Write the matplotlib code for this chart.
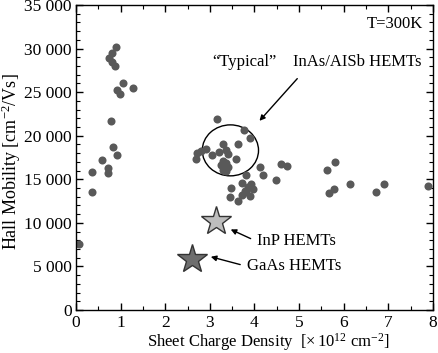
import numpy as np
import matplotlib
matplotlib.use('Agg')
from matplotlib import pyplot as plt
from matplotlib.patches import Ellipse
from matplotlib.ticker import MultipleLocator, FuncFormatter

plt.rcParams['font.family'] = ['Liberation Serif', 'DejaVu Serif']
plt.rcParams['mathtext.fontset'] = 'custom'
plt.rcParams['mathtext.rm'] = 'Liberation Serif'
plt.rcParams['mathtext.it'] = 'Liberation Serif:italic'

# InAs/AlSb HEMT samples: sheet density [1e12 cm^-2], Hall mobility [cm^2/Vs]
density = [0.895, 0.80, 0.745, 0.80, 0.87, 1.045, 1.28, 0.91, 0.98, 0.78,
           0.82, 0.91, 0.59, 0.72, 0.36, 0.72, 0.365, 0.067,
           3.15, 3.77, 3.91, 3.63, 3.30, 3.37, 3.21, 2.91, 2.81, 2.72,
           3.04, 2.69, 3.41, 3.58, 3.30, 3.37, 3.26, 3.41, 3.30, 3.36,
           3.80, 4.13, 4.19, 4.49, 4.59, 4.73, 3.71, 3.48, 3.93, 3.85,
           3.78, 3.97, 3.71, 3.89, 3.45, 3.63, 3.82,
           5.81, 5.63, 6.13, 5.78, 5.66, 6.91, 6.73, 7.88]
mobility = [30130, 29530, 28880, 28500, 28010, 26100, 25460, 25190, 24770, 21740,
            18700, 17780, 17210, 16340, 15850, 15700, 13570, 7560,
            21970, 20600, 19690, 19000, 19000, 18320, 18160, 18430, 18240, 18050,
            17780, 17290, 17860, 17290, 17100, 16910, 16640, 16420, 16040, 15960,
            15500, 16420, 15500, 14930, 16790, 16490, 14630, 13990, 14440, 14060,
            13680, 13870, 13220, 13110, 13000, 12540, 13490,
            17020, 16040, 14440, 13940, 13450, 14440, 13530, 14250]

inp = (3.13, 10260)
gaas = (2.59, 5890)

fig = plt.figure(figsize=(4.38, 3.53), dpi=100)
ax = fig.add_axes([0.1735, 0.1218, 0.8151, 0.8640])

ax.plot(density, mobility, 'o', color='#595959', markersize=5.8, markeredgewidth=0)
ax.plot(*inp, marker='*', color='#bdbdbd', markeredgecolor='#333333',
        markersize=22, markeredgewidth=1.0)
ax.plot(*gaas, marker='*', color='#6e6e6e', markeredgecolor='#333333',
        markersize=22, markeredgewidth=1.0)

ax.add_patch(Ellipse((3.46, 18320), 1.26, 5850, fill=False, edgecolor='black', lw=1.0))

arrow = dict(arrowstyle='-|>', color='black', lw=1.0, mutation_scale=8)
ax.annotate('', xy=(4.07, 21470), xytext=(5.0, 26790), arrowprops=arrow)
ax.annotate('', xy=(3.41, 9380), xytext=(3.97, 8060), arrowprops=arrow)
ax.annotate('', xy=(2.96, 6190), xytext=(3.74, 5130), arrowprops=arrow)

ax.text(3.05, 28450, '\u201cTypical\u201d', fontsize=12, va='center', ha='left')
ax.text(4.87, 28450, 'InAs/AISb HEMTs', fontsize=12, va='center', ha='left')
ax.text(4.05, 7950, 'InP HEMTs', fontsize=12, va='center', ha='left')
ax.text(3.84, 5000, 'GaAs HEMTs', fontsize=12, va='center', ha='left')
ax.text(7.78, 32800, 'T=300K', fontsize=12, va='center', ha='right')

ax.set_xlim(0, 8)
ax.set_ylim(0, 35000)
ax.xaxis.set_major_locator(MultipleLocator(1))
ax.xaxis.set_minor_locator(MultipleLocator(0.5))
ax.yaxis.set_major_locator(MultipleLocator(5000))
ax.yaxis.set_minor_locator(MultipleLocator(1000))
ax.yaxis.set_major_formatter(FuncFormatter(
    lambda v, p: '0' if v == 0 else '{:,.0f}'.format(v).replace(',', ' ')))
ax.tick_params(which='both', direction='in', top=True, right=True, labelsize=12.5)
ax.tick_params(which='major', length=5, width=1)
ax.tick_params(which='minor', length=3, width=0.8)
ax.tick_params(axis='y', pad=3)
for s in ax.spines.values():
    s.set_linewidth(1.0)

ax.set_xlabel(r'Sheet Charge Density  [$\times\,10^{12}$ cm$^{-2}$]', fontsize=12,
              va='center', ha='center')
ax.set_ylabel(r'Hall Mobility [cm$^{-2}$/Vs]', fontsize=13, va='center', ha='center')
ax.xaxis.set_label_coords(0.538, -0.104)
ax.yaxis.set_label_coords(-0.182, 0.485)

fig.savefig('out.png', dpi=100)
